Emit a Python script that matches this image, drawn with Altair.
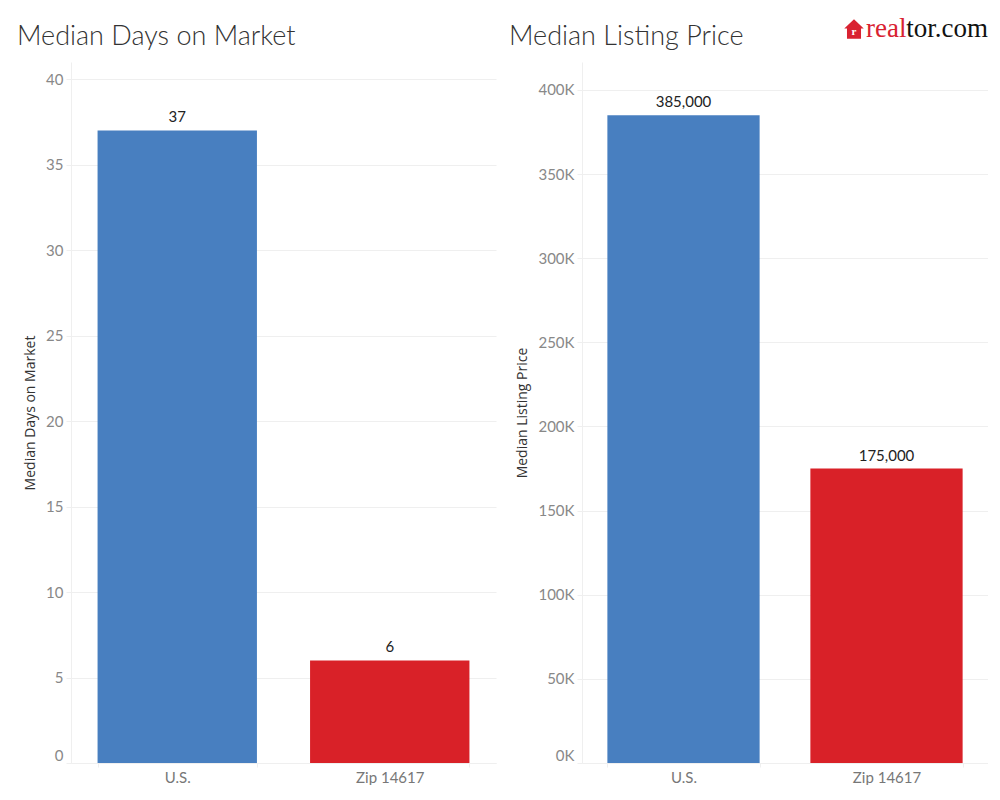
import altair as alt
import pandas as pd

categories = ["U.S.", "Zip 14617"]
days_on_market = [37, 6]
listing_price = [385000, 175000]
bar_colors = ["#487fc0", "#d92128"]

days_ticks = [0, 5, 10, 15, 20, 25, 30, 35, 40]
price_ticks = [0, 50000, 100000, 150000, 200000, 250000, 300000, 350000, 400000]

df_days = pd.DataFrame({"cat": categories, "value": days_on_market})
df_price = pd.DataFrame({"cat": categories, "value": listing_price})

FONT = "Lato"
GRID = "#efefef"

color = alt.Color("cat:N", scale=alt.Scale(domain=categories, range=bar_colors), legend=None)
one = pd.DataFrame({"a": [1]})


def xaxis():
    return alt.X(
        "cat:N",
        sort=categories,
        title=None,
        scale=alt.Scale(paddingInner=0.25, paddingOuter=0.125),
        axis=alt.Axis(
            labelAngle=0, labelFont=FONT, labelFontSize=15, labelColor="#777777",
            labelPadding=3, tickBand="extent", tickColor=GRID, tickSize=4,
            domainColor=GRID, grid=False,
        ),
    )


def panel(df, title, title_x, ytitle, ticks, dmax, label_expr, text_fmt, w):
    y = alt.Y(
        "value:Q",
        title=ytitle,
        scale=alt.Scale(domain=[0, dmax], nice=False),
        axis=alt.Axis(
            values=ticks, labelFont=FONT, labelFontSize=15, labelColor="#888888",
            labelExpr=label_expr, labelFlush=True, labelFlushOffset=0, labelPadding=3,
            tickColor=GRID, tickSize=5, domainColor=GRID, gridColor=GRID,
            titleFont="Open Sans", titleFontSize=14, titleFontWeight="normal",
            titleColor="#333333", titlePadding=8,
        ),
    )
    base = alt.Chart(df).encode(x=xaxis(), y=y)
    bars = base.mark_bar().encode(color=color)
    txt = base.mark_text(baseline="bottom", dy=-5, font=FONT, fontSize=15, color="#222222").encode(
        text=alt.Text("value:Q", format=text_fmt)
    )
    ttl = alt.Chart(one).mark_text(text=title, align="left", baseline="alphabetic", font=FONT,
                                   fontSize=27, fontWeight=300, color="#333333").encode(
        x=alt.value(title_x), y=alt.value(-17)
    )
    return alt.layer(bars, txt, ttl).properties(width=w, height=701)


left = panel(df_days, "Median Days on Market", -54, "Median Days on Market", days_ticks, 41,
             "datum.value", "d", 425)

right_core = panel(df_price, "Median Listing Price", -73, "Median Listing Price", price_ticks, 416600,
                   "format(datum.value / 1000, 'd') + 'K'", ",", 406)

house_path = "M0,-1 L1,-0.05 L0.72,-0.05 L0.72,1 L-0.72,1 L-0.72,-0.05 L-1,-0.05 Z"
house = alt.Chart(one).mark_point(shape=house_path, filled=True, color="#d92231", size=380, opacity=1).encode(
    x=alt.value(272), y=alt.value(-33)
)
house_r = alt.Chart(one).mark_text(text="r", align="center", baseline="middle", font="Liberation Serif",
                                   fontSize=11, fontWeight="bold", color="white").encode(
    x=alt.value(272), y=alt.value(-30)
)
real = alt.Chart(one).mark_text(text="real", align="left", baseline="alphabetic", font="Liberation Serif",
                                fontSize=27, color="#d92231").encode(x=alt.value(284), y=alt.value(-25))
torcom = alt.Chart(one).mark_text(text="tor.com", align="right", baseline="alphabetic", font="Liberation Serif",
                                  fontSize=27, color="#111111").encode(x=alt.value(406), y=alt.value(-25))

right = alt.layer(right_core, house, house_r, real, torcom)

chart = alt.hconcat(left, right, spacing=13).properties(
    padding={"left": 9, "top": 7, "right": 0, "bottom": 0}
).configure_view(stroke=None)

chart.save("out.html", embed_options={"renderer": "svg", "actions": False})
